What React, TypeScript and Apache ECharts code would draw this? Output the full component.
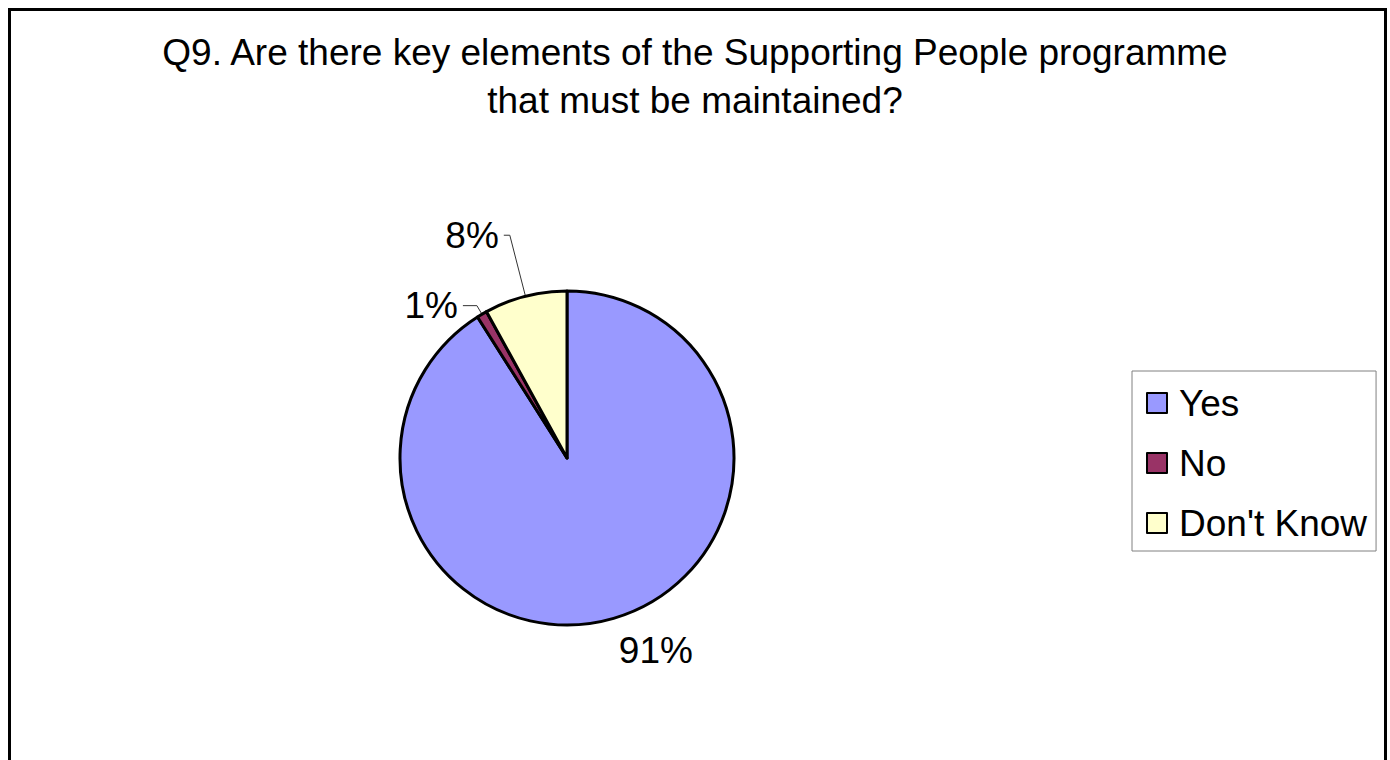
import React, { useEffect, useRef } from "react";
import * as echarts from "echarts";

const titleLines = [
  "Q9. Are there key elements of the Supporting People programme",
  "that must be maintained?",
];
const categories = ["Yes", "No", "Don't Know"];
const values = [91, 1, 8];
const colors = ["#9999FF", "#993366", "#FFFFCC"];

const FONT = "'Liberation Sans', Arial, Helvetica, sans-serif";
const FS = 37;

export default function App() {
  const ref = useRef<HTMLDivElement>(null);
  useEffect(() => {
    if (!ref.current) return;
    const chart = echarts.init(ref.current, undefined, { renderer: "svg" });
    const lineCfg = [
      { show: false, length: 33, length2: 0, dist: -4 },
      { show: true, length: 10, length2: 14, dist: 5 },
      { show: true, length: 63, length2: 6, dist: 5 },
    ];
    chart.setOption({
      animation: false,
      backgroundColor: "#ffffff",
      title: {
        text: titleLines.join("\n"),
        left: "center",
        top: 28,
        padding: 0,
        textStyle: {
          fontFamily: FONT,
          fontSize: FS,
          fontWeight: "normal",
          lineHeight: 48,
          color: "#000",
        },
      },
      legend: {
        orient: "vertical",
        left: 1132,
        top: 371,
        padding: [12, 9, 8, 14],
        itemWidth: 20,
        itemHeight: 20,
        itemGap: 20,
        icon: "rect",
        borderColor: "#808080",
        borderWidth: 1,
        backgroundColor: "#fff",
        borderRadius: 0,
        itemStyle: { borderColor: "#000", borderWidth: 2 },
        textStyle: {
          fontFamily: FONT,
          fontSize: FS,
          lineHeight: 40,
          color: "#000",
          padding: [0, 0, 0, 7],
        },
        data: categories,
      },
      graphic: [
        {
          type: "rect",
          silent: true,
          shape: { x: 9.5, y: 9.5, width: 1376, height: 900 },
          style: { fill: "none", stroke: "#000", lineWidth: 3 },
          z: 100,
        },
      ],
      series: [
        {
          type: "pie",
          center: [567, 458],
          radius: 167,
          startAngle: 90,
          clockwise: true,
          avoidLabelOverlap: false,
          itemStyle: { borderColor: "#000", borderWidth: 3 },
          emphasis: { disabled: true },
          label: {
            show: true,
            position: "outside",
            formatter: "{d}%",
            fontFamily: FONT,
            fontSize: FS,
            color: "#000",
          },
          labelLine: {
            show: true,
            lineStyle: { color: "#333", width: 1 },
          },
          data: categories.map((name, i) => ({
            name,
            value: values[i],
            itemStyle: { color: colors[i] },
            label: { distanceToLabelLine: lineCfg[i].dist },
            labelLine: {
              show: lineCfg[i].show,
              length: lineCfg[i].length,
              length2: lineCfg[i].length2,
            },
          })),
        },
      ],
    });
    return () => chart.dispose();
  }, []);
  return (
    <div
      ref={ref}
      style={{
        position: "fixed",
        left: 0,
        top: 0,
        width: 1390,
        height: 760,
        background: "#fff",
      }}
    />
  );
}
